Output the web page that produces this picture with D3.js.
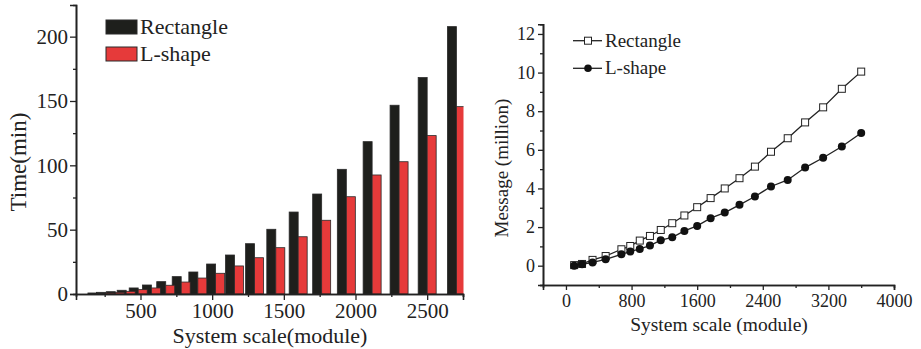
<!DOCTYPE html>
<html>
<head>
<meta charset="utf-8">
<script src="https://cdn.jsdelivr.net/npm/d3@7"></script>
<style>
  body { margin: 0; background: #fff; }
  text { font-family: "Liberation Serif", "Times New Roman", serif; fill: #222; }
</style>
</head>
<body>
<div id="chart"></div>
<script>
// left panel: time per system scale (bars)
const barScale = [196, 256, 324, 400, 484, 576, 676, 784, 900, 1024, 1156, 1296, 1444, 1600, 1764, 1936, 2116, 2304, 2500, 2704];
const timeRect = [0.8, 1.3, 1.8, 2.9, 4.7, 7.0, 9.6, 13.5, 17.1, 23.3, 30.3, 39.1, 50.3, 63.7, 77.7, 96.9, 118.4, 146.7, 168.2, 207.8];
const timeL = [0.5, 0.8, 1.3, 2.1, 3.4, 4.7, 6.8, 9.3, 12.4, 16.1, 21.8, 28.2, 36.0, 44.5, 57.3, 75.6, 92.5, 102.8, 123.1, 145.6];
const timeTicks = [0, 50, 100, 150, 200];
const scaleTicks = [500, 1000, 1500, 2000, 2500];

// right panel: messages per system scale (lines)
const lineScale = [100, 196, 324, 484, 676, 784, 900, 1024, 1156, 1296, 1444, 1600, 1764, 1936, 2116, 2304, 2500, 2704, 2916, 3136, 3364, 3600];
const msgRect = [0.03, 0.09, 0.3, 0.5, 0.85, 1.02, 1.3, 1.54, 1.85, 2.2, 2.6, 3.03, 3.5, 4.0, 4.53, 5.13, 5.9, 6.6, 7.42, 8.2, 9.16, 10.05];
const msgL = [0.0, 0.07, 0.17, 0.33, 0.59, 0.73, 0.87, 1.04, 1.32, 1.47, 1.8, 2.06, 2.46, 2.75, 3.15, 3.58, 4.1, 4.44, 5.08, 5.59, 6.17, 6.87];
const msgTicks = [0, 2, 4, 6, 8, 10, 12];
const lineTicks = [0, 800, 1600, 2400, 3200, 4000];

const seriesNames = ["Rectangle", "L-shape"];

const W = 921, H = 349;
const svg = d3.select("#chart").append("svg")
  .attr("width", W)
  .attr("height", H);

const ink = "#222";
const plain = d3.format("d");

// ---------- left: bars ----------
const xL = d3.scaleLinear().domain([50, 2750]).range([76, 463]);
const yL = d3.scaleLinear().domain([0, 224.6]).range([294, 5]);
const barW = 9;

svg.append("clipPath").attr("id", "clipL")
  .append("rect").attr("x", 76).attr("y", 0).attr("width", 463.5 - 76).attr("height", 300);

const bars = svg.append("g").attr("clip-path", "url(#clipL)");

bars.selectAll(".rect-bar")
  .data(barScale)
  .enter().append("rect")
  .attr("class", "rect-bar")
  .attr("x", d => xL(d) - barW)
  .attr("y", (d, i) => yL(timeRect[i]))
  .attr("width", barW)
  .attr("height", (d, i) => yL(0) - yL(timeRect[i]))
  .attr("fill", "#1e1f1c")
  .attr("stroke", "#2a2a2a")
  .attr("stroke-width", 0.8);

bars.selectAll(".l-bar")
  .data(barScale)
  .enter().append("rect")
  .attr("class", "l-bar")
  .attr("x", d => xL(d))
  .attr("y", (d, i) => yL(timeL[i]))
  .attr("width", barW)
  .attr("height", (d, i) => yL(0) - yL(timeL[i]))
  .attr("fill", "#e63a3a")
  .attr("stroke", "#2a2a2a")
  .attr("stroke-width", 0.8);

// axes (left + bottom only, ticks outward)
const axL_y = svg.append("g").attr("transform", "translate(76,0)")
  .call(d3.axisLeft(yL).tickValues(timeTicks).tickSize(6).tickPadding(2).tickFormat(plain));
svg.append("g").attr("transform", "translate(76,0)")
  .call(d3.axisLeft(yL).tickValues(d3.range(25, 225, 50)).tickSize(3).tickFormat(""));

const axL_x = svg.append("g").attr("transform", "translate(0,294)")
  .call(d3.axisBottom(xL).tickValues(scaleTicks).tickSize(6).tickPadding(3).tickFormat(plain));
svg.append("g").attr("transform", "translate(0,294)")
  .call(d3.axisBottom(xL).tickValues([250, 750, 1250, 1750, 2250, 2750]).tickSize(3).tickFormat(""));

[axL_y, axL_x].forEach(a => a.selectAll("text").style("font-size", "21px"));

// axis titles
svg.append("text")
  .attr("x", 270).attr("y", 343)
  .attr("text-anchor", "middle")
  .style("font-size", "22px")
  .text("System scale(module)");
svg.append("text")
  .attr("transform", "translate(26,162) rotate(-90)")
  .attr("text-anchor", "middle")
  .style("font-size", "23px")
  .text("Time(min)");

// legend
const legL = svg.append("g");
[["#1e1f1c", 20], ["#e63a3a", 47]].forEach((c, i) => {
  legL.append("rect")
    .attr("x", 106).attr("y", c[1]).attr("width", 31).attr("height", 14)
    .attr("fill", c[0]).attr("stroke", "#2a2a2a").attr("stroke-width", 1);
  legL.append("text")
    .attr("x", 140).attr("y", c[1] + 14)
    .style("font-size", "22px")
    .text(seriesNames[i]);
});

// ---------- right: lines ----------
const xR = d3.scaleLinear().domain([-280, 4000]).range([543, 894]);
const yR = d3.scaleLinear().domain([-1, 12.5]).range([285, 24.3]);

const axR_y = svg.append("g").attr("transform", "translate(543,0)")
  .call(d3.axisLeft(yR).tickValues(msgTicks).tickSize(5).tickPadding(3).tickFormat(plain));
svg.append("g").attr("transform", "translate(543,0)")
  .call(d3.axisLeft(yR).tickValues(d3.range(-1, 13, 2)).tickSize(3).tickFormat(""));
const axR_x = svg.append("g").attr("transform", "translate(0,285)")
  .call(d3.axisBottom(xR).tickValues(lineTicks).tickSize(5).tickPadding(4).tickFormat(plain));
svg.append("g").attr("transform", "translate(0,285)")
  .call(d3.axisBottom(xR).tickValues(d3.range(400, 4000, 800)).tickSize(3).tickFormat(""));
[axR_y, axR_x].forEach(a => a.selectAll("text").style("font-size", "18px"));

svg.append("text")
  .attr("x", 719).attr("y", 331)
  .attr("text-anchor", "middle")
  .style("font-size", "19.5px")
  .text("System scale (module)");
svg.append("text")
  .attr("transform", "translate(508,168) rotate(-90)")
  .attr("text-anchor", "middle")
  .style("font-size", "19px")
  .text("Message (million)");

const line = d3.line().x(d => xR(d[0])).y(d => yR(d[1]));
const ptsRect = lineScale.map((s, i) => [s, msgRect[i]]);
const ptsL = lineScale.map((s, i) => [s, msgL[i]]);

svg.append("path").datum(ptsRect)
  .attr("d", line).attr("fill", "none").attr("stroke", ink).attr("stroke-width", 1.3);
svg.append("path").datum(ptsL)
  .attr("d", line).attr("fill", "none").attr("stroke", ink).attr("stroke-width", 1.3);

svg.selectAll(".sq")
  .data(ptsRect)
  .enter().append("rect")
  .attr("class", "sq")
  .attr("x", d => xR(d[0]) - 3.5)
  .attr("y", d => yR(d[1]) - 3.5)
  .attr("width", 7).attr("height", 7)
  .attr("fill", "#fff").attr("stroke", ink).attr("stroke-width", 1);

svg.selectAll(".dot")
  .data(ptsL)
  .enter().append("circle")
  .attr("class", "dot")
  .attr("cx", d => xR(d[0]))
  .attr("cy", d => yR(d[1]))
  .attr("r", 4)
  .attr("fill", "#111");

// legend right
const legR = svg.append("g");
[40.7, 68.3].forEach((y, i) => {
  legR.append("line")
    .attr("x1", 573).attr("x2", 602).attr("y1", y).attr("y2", y)
    .attr("stroke", ink).attr("stroke-width", 1.3);
  if (i === 0) {
    legR.append("rect").attr("x", 584.5).attr("y", y - 3.5).attr("width", 7).attr("height", 7)
      .attr("fill", "#fff").attr("stroke", ink);
  } else {
    legR.append("circle").attr("cx", 588).attr("cy", y).attr("r", 3.8).attr("fill", "#111");
  }
  legR.append("text")
    .attr("x", 605).attr("y", y + 6)
    .style("font-size", "19px")
    .text(seriesNames[i]);
});

// axis styling
svg.selectAll(".domain").attr("stroke", ink).attr("stroke-width", 1.6);
svg.selectAll(".tick line").attr("stroke", ink).attr("stroke-width", 1.3);
</script>
</body>
</html>
